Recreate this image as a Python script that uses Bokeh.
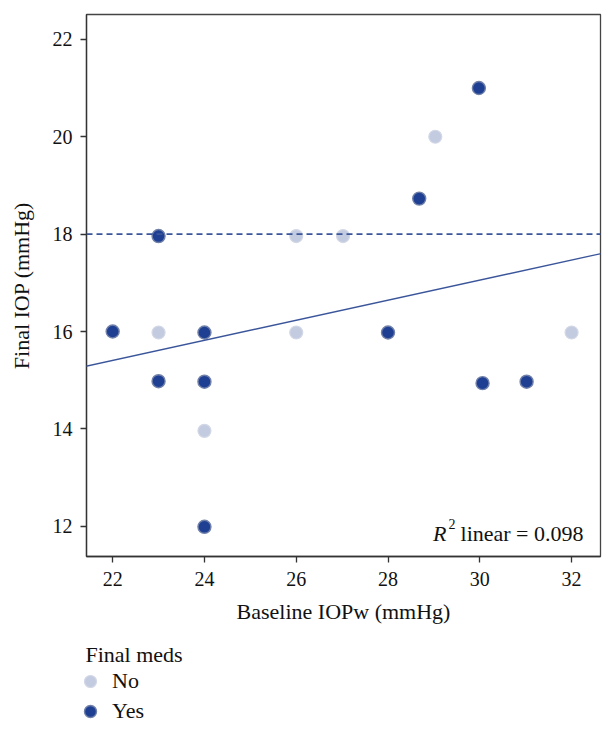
from bokeh.plotting import figure
from bokeh.layouts import column
from bokeh.models import (ColumnDataSource, Span, Slope, Label, Legend, LegendItem,
                          FixedTicker, Range1d)
from bokeh.embed import file_html
from bokeh.resources import INLINE

# ---- data ----
yes_x = [22, 23, 23, 24, 24, 24, 28, 28.68, 29.98, 30.06, 31.02]
yes_y = [16, 17.96, 14.98, 15.98, 14.97, 11.99, 15.98, 18.73, 21.0, 14.94, 14.97]
no_x = [23, 24, 26, 26, 27.02, 29.03, 32]
no_y = [15.98, 13.96, 17.96, 15.98, 17.96, 20.0, 15.98]
fit_slope = 0.206
fit_intercept = 10.875
threshold = 18
x_ticks = [22, 24, 26, 28, 30, 32]
y_ticks = [12, 14, 16, 18, 20, 22]
r2_text = "0.098"
groups = ["No", "Yes"]
legend_title = "Final meds"

FONT = "Liberation Serif"
DARK = "#1f3f93"
LIGHT = "#c3cbe0"
DARK_EDGE = "#7080a8"
LIGHT_EDGE = "#d3d8e6"
LINE = "#3a559a"
TXT = "#111111"

p = figure(width=612, height=636, output_backend="svg", toolbar_location=None,
           x_range=Range1d(21.43, 32.63), y_range=Range1d(11.38, 22.51),
           min_border_left=86, min_border_right=12, min_border_top=14,
           min_border_bottom=80)
p.grid.visible = False
p.outline_line_color = "#444444"
p.outline_line_width = 1.3

for ax in (p.xaxis[0], p.yaxis[0]):
    ax.axis_line_color = "#333333"
    ax.axis_line_width = 1.3
    ax.major_tick_line_color = "#333333"
    ax.major_tick_line_width = 1.3
    ax.major_tick_out = 6
    ax.major_tick_in = 0
    ax.minor_tick_line_color = None
    ax.major_label_text_font = FONT
    ax.major_label_text_font_size = "20px"
    ax.major_label_text_color = TXT
    ax.axis_label_text_font = FONT
    ax.axis_label_text_font_size = "22px"
    ax.axis_label_text_font_style = "normal"
    ax.axis_label_text_color = TXT

p.xaxis.ticker = FixedTicker(ticks=x_ticks)
p.yaxis.ticker = FixedTicker(ticks=y_ticks)
p.xaxis.axis_label = "Baseline IOPw (mmHg)"
p.yaxis.axis_label = "Final IOP (mmHg)"
p.xaxis.major_label_standoff = 9
p.yaxis.major_label_standoff = 8
p.xaxis.axis_label_standoff = 10
p.yaxis.axis_label_standoff = 16

# threshold and fit
p.add_layout(Span(location=threshold, dimension="width", line_color=LINE,
                  line_width=1.6, line_dash="6 4"))
p.add_layout(Slope(gradient=fit_slope, y_intercept=fit_intercept,
                   line_color=LINE, line_width=1.4))

src_no = ColumnDataSource(dict(x=no_x, y=no_y))
src_yes = ColumnDataSource(dict(x=yes_x, y=yes_y))
p.scatter("x", "y", source=src_no, size=13, fill_color=LIGHT,
          line_color=LIGHT_EDGE, line_width=1.2)
p.scatter("x", "y", source=src_yes, size=13, fill_color=DARK,
          line_color=DARK_EDGE, line_width=1.4)

# R^2 annotation
RX, RY = 32.26, 11.86
p.add_layout(Label(x=RX, y=RY, text="linear = " + r2_text, text_font=FONT,
                   text_font_size="22px", text_align="right",
                   text_baseline="alphabetic", text_color=TXT))
p.add_layout(Label(x=RX, y=RY, x_offset=-137, text="R", text_font=FONT,
                   text_font_size="22px", text_font_style="italic",
                   text_align="right", text_baseline="alphabetic", text_color=TXT))
p.add_layout(Label(x=RX, y=RY, x_offset=-128, y_offset=9, text="2", text_font=FONT,
                   text_font_size="14px", text_align="right",
                   text_baseline="alphabetic", text_color=TXT))

# ---- legend panel below the plot ----
q = figure(width=612, height=94, output_backend="svg", toolbar_location=None,
           x_range=Range1d(0, 1), y_range=Range1d(0, 1),
           min_border_left=0, min_border_right=0, min_border_top=0,
           min_border_bottom=0)
q.frame_align = False
q.axis.visible = False
q.grid.visible = False
q.outline_line_color = None
# legend swatches: one point each, placed outside the visible range
lr_no = q.scatter(x=[-5], y=[-5], size=13, fill_color=LIGHT, line_color=LIGHT_EDGE,
                  line_width=1.2)
lr_yes = q.scatter(x=[-5], y=[-5], size=13, fill_color=DARK, line_color=DARK_EDGE,
                   line_width=1.4)
q.add_layout(Label(x=85, y=76, x_units="screen", y_units="screen", text=legend_title,
                   text_font=FONT, text_font_size="22px", text_baseline="middle",
                   text_color=TXT))
legend = Legend(items=[LegendItem(label=groups[0], renderers=[lr_no]),
                       LegendItem(label=groups[1], renderers=[lr_yes])],
                location=(75, 4), orientation="vertical")
legend.label_text_font = FONT
legend.label_text_font_size = "22px"
legend.label_text_color = TXT
legend.border_line_color = None
legend.background_fill_alpha = 0
legend.glyph_width = 30
legend.glyph_height = 30
legend.label_height = 30
legend.label_standoff = 7
legend.spacing = -2
legend.padding = 0
legend.margin = 0
q.add_layout(legend)

open("out.html", "w").write(file_html(column(p, q, spacing=0), INLINE))
